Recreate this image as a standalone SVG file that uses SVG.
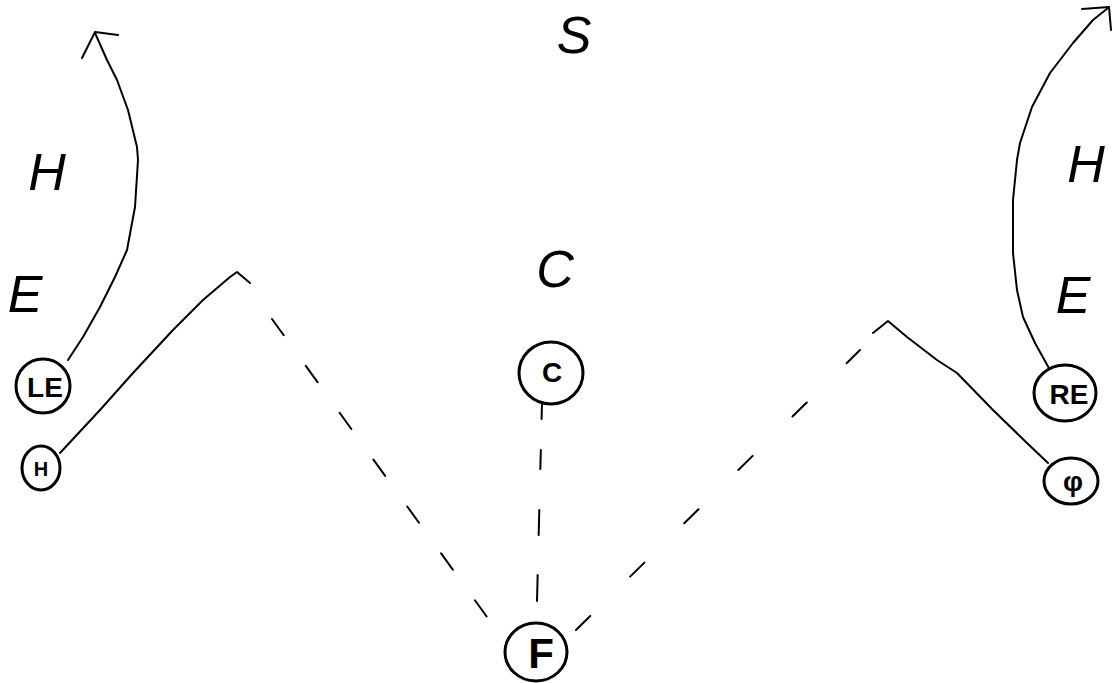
<svg xmlns="http://www.w3.org/2000/svg" width="1112" height="683" viewBox="0 0 1112 683">
  <style>
    .lbl { font-family: "Liberation Sans", Arial, sans-serif; font-style: italic; fill: #000; text-anchor: middle; }
    .big { font-size: 52px; }
    .node ellipse { fill: #fff; stroke: #000; stroke-width: 3; }
    .ntxt { font-family: "Liberation Sans", Arial, sans-serif; fill: #000; text-anchor: middle; font-weight: bold; }
    .route { fill: none; stroke: #000; stroke-width: 2; stroke-linecap: round; stroke-linejoin: round; }
    .dash { fill: none; stroke: #000; stroke-width: 2; stroke-linecap: round; }
  </style>
  <rect x="0" y="0" width="1112" height="683" fill="#fff"/>

  <g id="labels">
    <text class="lbl big" x="574" y="53">S</text>
    <text class="lbl big" x="47" y="190">H</text>
    <text class="lbl big" x="25" y="312">E</text>
    <text class="lbl big" x="555" y="287">C</text>
    <text class="lbl big" x="1086" y="182">H</text>
    <text class="lbl big" x="1073" y="313">E</text>
  </g>

  <g id="connectors">
    <!-- LE route with arrow -->
    <path class="route" d="M68,360 L83,337 L100,307 L115,277 L127,250 L135,207 L138,160 L137,147 L128,110 L117,80 L107,60 L95,33"/>
    <path class="route" d="M82,58 L95,32 L118,35"/>
    <!-- H block route -->
    <path class="route" d="M60,453 L100,410 L133,373 L173,330 L203,300 L230,277 L237,272 L250,283"/>
    <!-- RE route with arrow -->
    <path class="route" d="M1050,370 L1035,343 L1023,317 L1017,290 L1013,253 L1013,200 L1017,160 L1020,143 L1032,107 L1050,73 L1073,43 L1093,20 L1108,8"/>
    <path class="route" d="M1082,9 L1109,7 L1111,30"/>
    <!-- phi block route -->
    <path class="route" d="M1048,463 L1027,443 L993,410 L957,373 L937,360 L907,337 L888,321 L873,333"/>
    <!-- dashed passing/path lines to F -->
    <path class="dash" d="M272,319 L487,617" stroke-dasharray="20 37.8"/>
    <path class="dash" d="M542,403 L537,601" stroke-dasharray="16 31 19 41 25 40 26"/>
    <path class="dash" d="M576,630 L860,350" stroke-dasharray="20 56"/>
  </g>

  <g id="node-LE" class="node">
    <ellipse cx="43" cy="386" rx="27" ry="27"/>
    <text class="ntxt" x="45" y="397" font-size="28">LE</text>
  </g>
  <g id="node-H" class="node">
    <ellipse cx="41" cy="468" rx="19" ry="22"/>
    <text class="ntxt" x="41" y="476" font-size="20">H</text>
  </g>
  <g id="node-C" class="node">
    <ellipse cx="551" cy="373" rx="32" ry="31"/>
    <text class="ntxt" x="552" y="382" font-size="28">C</text>
  </g>
  <g id="node-F" class="node">
    <ellipse cx="536" cy="652" rx="31" ry="29"/>
    <text class="ntxt" x="541" y="668" font-size="42">F</text>
  </g>
  <g id="node-RE" class="node">
    <ellipse cx="1065" cy="393" rx="31" ry="28"/>
    <text class="ntxt" x="1069" y="404" font-size="28">RE</text>
  </g>
  <g id="node-PHI" class="node">
    <ellipse cx="1071" cy="481" rx="27" ry="23"/>
    <text class="ntxt" x="1073" y="491" font-size="28">φ</text>
  </g>
</svg>
